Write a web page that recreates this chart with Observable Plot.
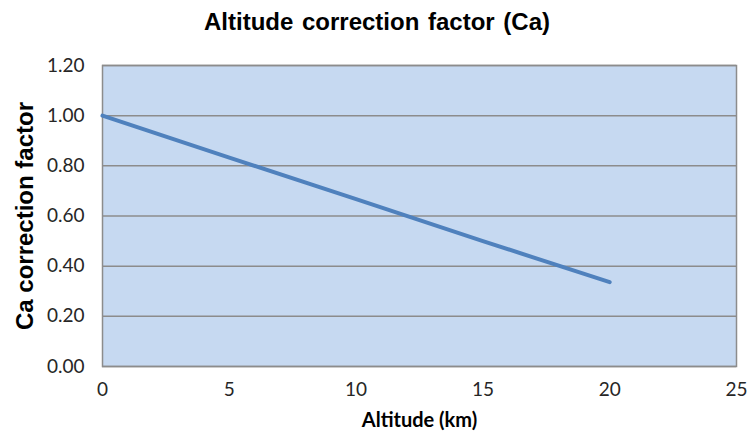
<!DOCTYPE html>
<html>
<head>
<meta charset="utf-8">
<script src="https://cdn.jsdelivr.net/npm/d3@7"></script>
<script src="https://cdn.jsdelivr.net/npm/@observablehq/plot@0.6"></script>
<style>
  body { margin: 0; background: #fff; width: 750px; height: 440px; overflow: hidden; }
  #title { height: 48px; line-height: 44px; text-align: center; font-family: "Liberation Sans", Arial, sans-serif; font-weight: bold; font-size: 24px; color: #000; padding-left: 4px; word-spacing: 2px; }
  svg { display: block; }
</style>
</head>
<body>
<div id="title">Altitude correction factor (Ca)</div>
<div id="chart"></div>
<script>
const altitudeKm = [0, 5, 10, 15, 20];
const caFactor = [1.00, 0.833, 0.667, 0.50, 0.336];
const xTicks = [0, 5, 10, 15, 20, 25];
const yTicks = [0, 0.2, 0.4, 0.6, 0.8, 1.0, 1.2];

const data = altitudeKm.map((a, i) => ({altitude: a, ca: caFactor[i]}));

const chart = Plot.plot({
  width: 750,
  height: 392,
  marginTop: 17,
  marginBottom: 74,
  marginLeft: 102,
  marginRight: 14,
  style: {fontFamily: "Lato, 'Open Sans', sans-serif", fontSize: "19px", color: "#262626", background: "#fff"},
  x: {domain: [0, 25], ticks: xTicks, tickSize: 0, tickPadding: 18, label: null},
  y: {domain: [0, 1.2], ticks: yTicks, tickSize: 0, tickPadding: 18, tickFormat: d3.format(".2f"), label: null},
  marks: [
    Plot.frame({fill: "#c6d9f1"}),
    Plot.gridY(yTicks, {stroke: "#8c8c8c", strokeOpacity: 1, strokeWidth: 1.5}),
    Plot.frame({stroke: "#8c8c8c", strokeWidth: 1.5}),
    Plot.line(data, {x: "altitude", y: "ca", stroke: "#4f81bd", strokeWidth: 4}),
    Plot.axisX({ticks: xTicks, tickSize: 0, tickPadding: 16, fontSize: 19}),
    Plot.axisY({ticks: yTicks, tickSize: 0, tickPadding: 18, tickFormat: d3.format(".2f"), fontSize: 19}),
    Plot.text(["Altitude (km)"], {frameAnchor: "bottom", dy: 60, fontWeight: "bold", fontSize: 20, fill: "#000"}),
    Plot.text(["Ca correction factor"], {frameAnchor: "left", textAnchor: "middle", dx: -77, rotate: -90, fontWeight: "bold", fontSize: 24, fontFamily: "'Liberation Sans', Arial, sans-serif", fill: "#000"})
  ]
});
document.getElementById("chart").append(chart);
</script>
</body>
</html>
